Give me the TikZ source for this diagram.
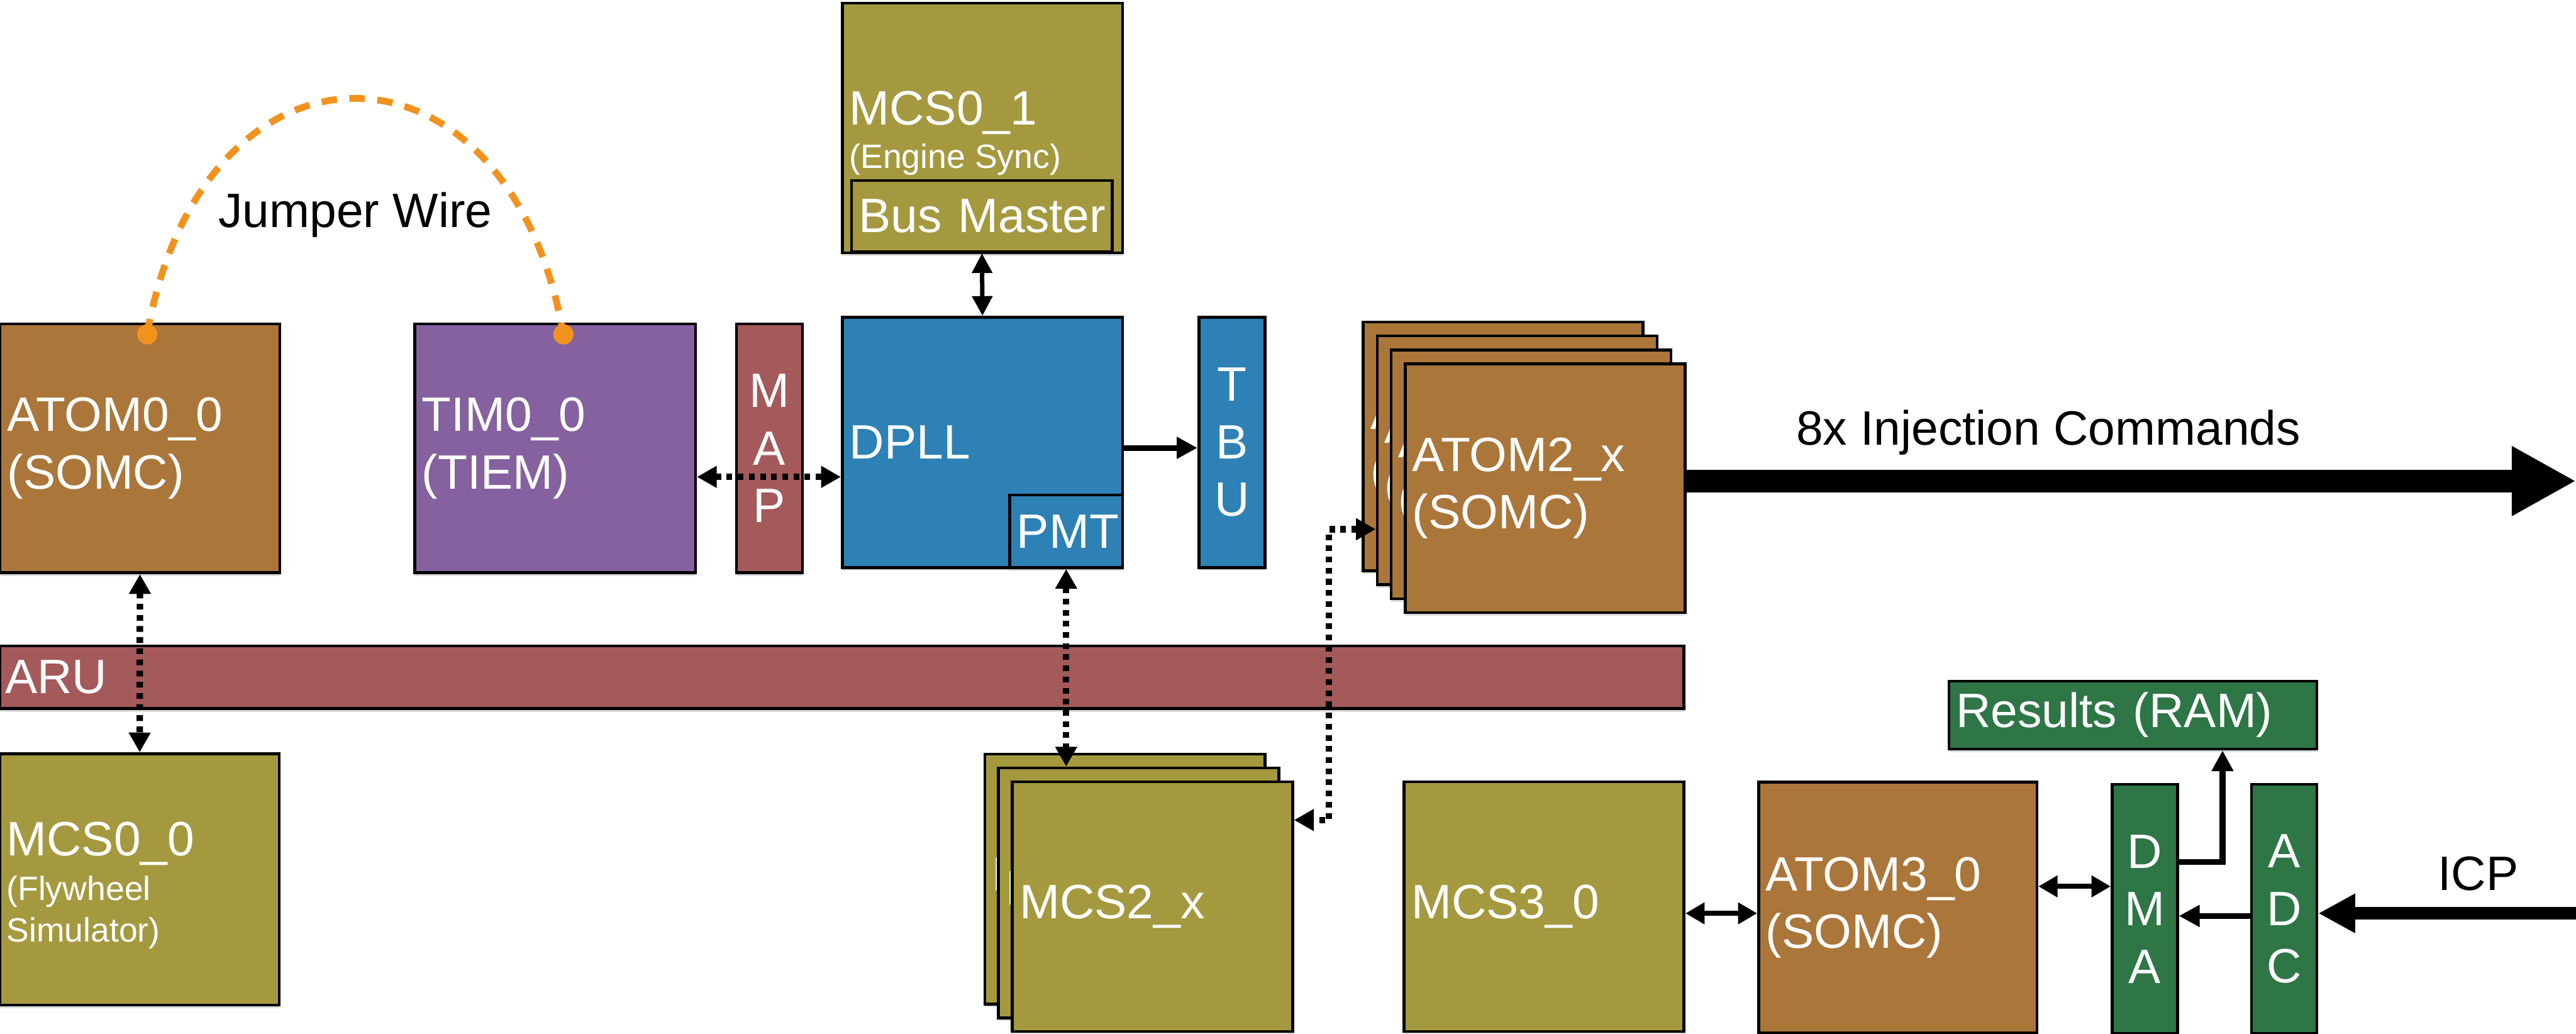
\documentclass[tikz,border=0pt]{standalone}
\usepackage{fontspec}
\setmainfont{Liberation Sans}
\usetikzlibrary{arrows.meta,positioning,shadows}
\definecolor{AtomBrown}{RGB}{170,118,58}
\definecolor{TimPurple}{RGB}{133,97,160}
\definecolor{AruRed}{RGB}{164,89,90}
\definecolor{McsOlive}{RGB}{165,153,64}
\definecolor{DpllBlue}{RGB}{45,129,180}
\definecolor{AdcGreen}{RGB}{46,118,70}
\definecolor{WireOrange}{RGB}{242,146,30}
\newcommand{\bigtxt}{\fontsize{26.5pt}{31.6pt}\selectfont\hyphenpenalty=10000\relax}
\newcommand{\subtxt}{\fontsize{18.5pt}{22.8pt}\selectfont}
\tikzset{
  blk/.style={draw=black,line width=.55mm,inner xsep=1.4mm,inner ysep=0pt,
    align=left,text=white,font=\bigtxt,
    drop shadow={shadow xshift=0mm,shadow yshift=-.6mm,opacity=.25}},
  bar/.style={blk,align=center,inner xsep=0pt},
  lbl/.style={inner sep=0pt,text=white,font=\bigtxt},
  blacklbl/.style={inner sep=0pt,text=black,font=\bigtxt},
  dot/.style={circle,fill=WireOrange,minimum size=3.9mm,inner sep=0pt},
  jumper/.style={WireOrange,line width=1.3mm,dash pattern=on 3mm off 2.4mm},
  dotarr/.style={line width=1.25mm,dash pattern=on 1.1mm off 1.05mm,
    >={Triangle[length=3.8mm,width=4mm]},<->},
  busarr/.style={line width=.85mm,>={Triangle[length=3.8mm,width=3.8mm]},<->},
  linkarr/.style={line width=1mm,>={Triangle[length=3.7mm,width=4mm]},<->},
  onearr/.style={line width=1.1mm,>={Triangle[length=4mm,width=4mm]},->},
  bigarr/.style={line width=4.3mm,>={Triangle[length=12.4mm,width=12.6mm]},->},
  icparr/.style={line width=2.4mm,>={Triangle[length=7.1mm,width=7.1mm]},->}
}
\begin{document}
\begin{tikzpicture}
  \useasboundingbox (0,0) rectangle (49.70,-19.94);
  \node[blk,fill=AtomBrown,minimum width=5.40cm,minimum height=4.80cm,text width=5.12cm]
    (atom00) at (2.70,-8.65) {ATOM0\_0\\(SOMC)};
  \node[blk,fill=TimPurple,minimum width=5.42cm,minimum height=4.80cm,text width=5.14cm]
    (tim00) at (10.71,-8.65) {TIM0\_0\\(TIEM)};
  \node[bar,fill=AruRed,minimum width=1.27cm,minimum height=4.80cm]
    (map) at (14.845,-8.65) {M\\A\\P};
  \node[blk,fill=DpllBlue,minimum width=5.41cm,minimum height=4.83cm,text width=5.13cm]
    (dpll) at (18.955,-8.535) {DPLL};
  \node[blk,fill=DpllBlue,minimum width=2.18cm,minimum height=1.40cm,text width=1.90cm,
    anchor=south east] (pmt) at (dpll.south east) {PMT};
  \node[bar,fill=DpllBlue,minimum width=1.28cm,minimum height=4.83cm]
    (tbu) at (23.77,-8.535) {T\\B\\U};
  \node[blk,fill=McsOlive,minimum width=5.41cm,minimum height=4.82cm]
    (mcs01) at (18.955,-2.47) {};
  \node[lbl,anchor=base west] (mcs01a) at (16.38,-2.41) {MCS0\_1};
  \node[lbl,font=\subtxt,anchor=base west] (mcs01b) at (16.38,-3.25) {(Engine Sync)};
  \node[blk,fill=McsOlive,minimum width=5.03cm,minimum height=1.38cm,text width=4.75cm]
    (busm) at (18.945,-4.17) {\mbox{Bus Master}};
  \node[blk,fill=AruRed,minimum width=32.49cm,minimum height=1.21cm,inner xsep=1mm,
    text width=32.29cm] (aru) at (16.245,-13.065) {ARU};
  \foreach \k in {3,2,1,0}
    \node[blk,fill=AtomBrown,minimum width=5.40cm,minimum height=4.80cm,text width=5.12cm]
      (atom2-\k) at ({29.81-0.27*\k},{-9.42+0.27*\k}) {ATOM2\_x\\(SOMC)};
  \node[blk,fill=McsOlive,minimum width=5.39cm,minimum height=4.85cm]
    (mcs00) at (2.695,-16.965) {};
  \node[lbl,anchor=base west] (mcs00a) at (0.12,-16.51) {MCS0\_0};
  \node[lbl,font=\subtxt,anchor=base west] (mcs00b) at (0.12,-17.37) {(Flywheel};
  \node[lbl,font=\subtxt,anchor=base west] (mcs00c) at (0.12,-18.17) {Simulator)};
  \foreach \k in {2,1,0}
    \node[blk,fill=McsOlive,minimum width=5.41cm,minimum height=4.82cm,text width=5.13cm]
      (mcs2-\k) at ({22.235-0.265*\k},{-17.49+0.265*\k}) {MCS2\_x};
  \node[blk,fill=McsOlive,minimum width=5.40cm,minimum height=4.82cm,text width=5.12cm]
    (mcs30) at (29.79,-17.49) {MCS3\_0};
  \node[blk,fill=AtomBrown,minimum width=5.37cm,minimum height=4.84cm,text width=5.09cm]
    (atom30) at (36.615,-17.51) {ATOM3\_0\\(SOMC)};
  \node[bar,fill=AdcGreen,minimum width=1.26cm,minimum height=4.81cm]
    (dma) at (41.38,-17.535) {D\\M\\A};
  \node[bar,fill=AdcGreen,minimum width=1.26cm,minimum height=4.81cm]
    (adc) at (44.07,-17.535) {A\\D\\C};
  \node[blk,fill=AdcGreen,minimum width=7.10cm,minimum height=1.31cm,text width=6.82cm]
    (results) at (41.15,-13.795) {Results (RAM)};

  \node[dot] (wireA) at (2.84,-6.45) {};
  \node[dot] (wireB) at (10.87,-6.45) {};
  \draw[jumper] (wireA.center) .. controls (3.9,-0.38) and (9.8,-0.38) .. (wireB.center);
  \node[blacklbl,anchor=base] (wirelbl) at (6.855,-4.39) {Jumper Wire};
  \node[blacklbl,anchor=base] (injlbl) at (39.52,-8.58) {8x Injection Commands};
  \node[blacklbl,anchor=base] (icplbl) at (47.81,-17.17) {ICP};

  \coordinate (mapY) at (0,-9.20);
  \coordinate (tbuY) at (0,-8.64);
  \coordinate (linkA) at (0,-10.21);
  \coordinate (linkB) at (0,-15.82);
  \coordinate (jog) at (25.64,-13);
  \coordinate (injEnd) at (49.70,-9.28);
  \coordinate (icpIn) at (49.70,-17.62);
  \coordinate (ramX) at (42.88,0);

  \draw[dotarr] (atom00.south) -- (mcs00.north);
  \draw[dotarr] (tim00.east |- mapY) -- (dpll.west |- mapY);
  \draw[busarr] (busm.south) -- (dpll.north);
  \draw[onearr] (dpll.east |- tbuY) -- (tbu.west |- tbuY);
  \draw[dotarr] (pmt.south) -- (pmt.south |- mcs2-1.north);
  \draw[dotarr] (atom2-2.west |- linkA) -| (jog) |- (mcs2-0.east |- linkB);
  \draw[bigarr] (atom2-0.east |- injEnd) -- (injEnd);
  \draw[linkarr] (mcs30.east |- 0,-17.62) -- (atom30.west |- 0,-17.62);
  \draw[linkarr] (atom30.east |- 0,-17.10) -- (dma.west |- 0,-17.10);
  \draw[onearr] (adc.west |- 0,-17.67) -- (dma.east |- 0,-17.67);
  \draw[onearr] (dma.east |- 0,-16.63) -| (ramX |- results.south);
  \draw[icparr] (icpIn) -- (icpIn -| adc.east);
\end{tikzpicture}
\end{document}
